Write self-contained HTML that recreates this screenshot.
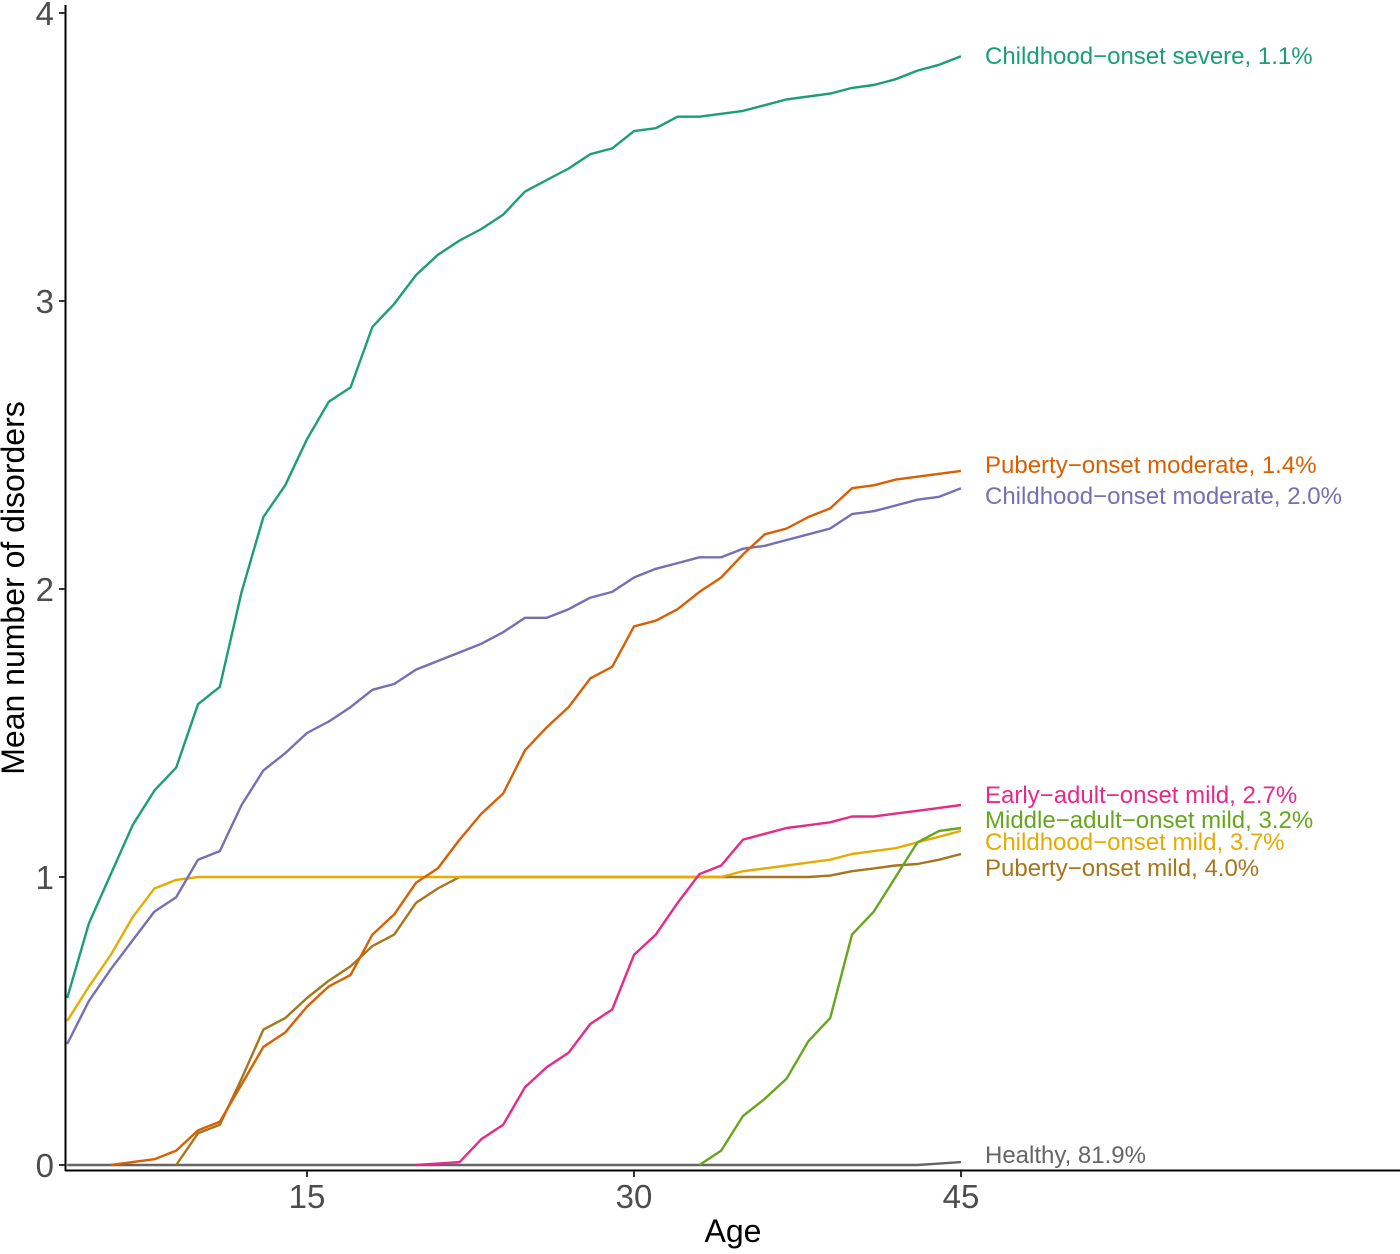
<!DOCTYPE html>
<html><head><meta charset="utf-8"><style>
body{margin:0;background:#fff;}
svg text{font-family:"Liberation Sans",sans-serif;}
</style></head><body>
<svg id="chart" width="1400" height="1249" xmlns="http://www.w3.org/2000/svg">
<g id="marks"></g>
<g id="axes"></g>
</svg>
<script>
const ages = Array.from({length:42},(_,i)=>i+4);
const severe = [0.58,0.84,1.01,1.18,1.30,1.38,1.60,1.66,1.99,2.25,2.36,2.52,2.65,2.70,2.91,2.99,3.09,3.16,3.21,3.25,3.30,3.38,3.42,3.46,3.51,3.53,3.59,3.60,3.64,3.64,3.65,3.66,3.68,3.70,3.71,3.72,3.74,3.75,3.77,3.80,3.82,3.85];
const pubModerate = [null,null,0,0.01,0.02,0.05,0.12,0.15,0.28,0.41,0.46,0.55,0.62,0.66,0.80,0.87,0.98,1.03,1.13,1.22,1.29,1.44,1.52,1.59,1.69,1.73,1.87,1.89,1.93,1.99,2.04,2.12,2.19,2.21,2.25,2.28,2.35,2.36,2.38,2.39,2.40,2.41];
const childModerate = [0.42,0.57,0.68,0.78,0.88,0.93,1.06,1.09,1.25,1.37,1.43,1.50,1.54,1.59,1.65,1.67,1.72,1.75,1.78,1.81,1.85,1.90,1.90,1.93,1.97,1.99,2.04,2.07,2.09,2.11,2.11,2.14,2.15,2.17,2.19,2.21,2.26,2.27,2.29,2.31,2.32,2.35];
const earlyMild = [null,null,null,null,null,null,null,null,null,null,null,null,null,null,null,null,0,0.005,0.01,0.09,0.14,0.27,0.34,0.39,0.49,0.54,0.73,0.80,0.91,1.01,1.04,1.13,1.15,1.17,1.18,1.19,1.21,1.21,1.22,1.23,1.24,1.25];
const middleMild = [null,null,null,null,null,null,null,null,null,null,null,null,null,null,null,null,null,null,null,null,null,null,null,null,null,null,null,null,null,0,0.05,0.17,0.23,0.30,0.43,0.51,0.80,0.88,1.00,1.12,1.16,1.17];
const childMild = [0.50,0.62,0.73,0.86,0.96,0.99,1,1,1,1,1,1,1,1,1,1,1,1,1,1,1,1,1,1,1,1,1,1,1,1,1.00,1.02,1.03,1.04,1.05,1.06,1.08,1.09,1.10,1.12,1.14,1.16];
const pubMild = [null,null,null,null,null,0,0.11,0.14,0.30,0.47,0.51,0.58,0.64,0.69,0.76,0.80,0.91,0.96,1,1,1,1,1,1,1,1,1,1,1,1,1,1,1,1,1,1.005,1.02,1.03,1.04,1.045,1.06,1.08];
const healthy = [0,0,0,0,0,0,0,0,0,0,0,0,0,0,0,0,0,0,0,0,0,0,0,0,0,0,0,0,0,0,0,0,0,0,0,0,0,0,0,0,0.005,0.01];
const xTicks = [15,30,45];
const yTicks = [0,1,2,3,4];
const seriesNames = ["Healthy, 81.9%","Puberty\u2212onset mild, 4.0%","Childhood\u2212onset mild, 3.7%","Middle\u2212adult\u2212onset mild, 3.2%","Early\u2212adult\u2212onset mild, 2.7%","Childhood\u2212onset moderate, 2.0%","Puberty\u2212onset moderate, 1.4%","Childhood\u2212onset severe, 1.1%"];
const seriesData = [healthy,pubMild,childMild,middleMild,earlyMild,childModerate,pubModerate,severe];
const colors = ["#666666","#a6761d","#e6ab02","#66a61e","#e7298a","#7570b3","#d95f02","#1b9e77"];
const labelY = [1155,868,842,820,795,496,465,56];
const keys = ["healthy","puberty-mild","childhood-mild","middle-adult-mild","early-adult-mild","childhood-moderate","puberty-moderate","childhood-severe"];

const X = a => 307 + (a-15)*21.8;
const Y = v => 1165 - v*288;
const NS="http://www.w3.org/2000/svg";
const marks=document.getElementById('marks'), axes=document.getElementById('axes');
function mk(tag,attrs,parent){const e=document.createElementNS(NS,tag);for(const k in attrs)e.setAttribute(k,attrs[k]);parent.appendChild(e);return e;}

seriesData.forEach((d,i)=>{
  let pts=[];
  d.forEach((v,j)=>{ if(v!==null) pts.push(X(ages[j]).toFixed(1)+","+Y(v).toFixed(1)); });
  const p=mk('polyline',{points:pts.join(' '),fill:'none',stroke:colors[i],'stroke-width':2.4,'stroke-linejoin':'round'},marks);
  
  
  const t=mk('text',{x:985,y:labelY[i]+8,fill:colors[i],'font-size':24},marks);
  t.textContent=seriesNames[i];
  
  
});

const ya=mk('line',{x1:65.5,y1:5,x2:65.5,y2:1171,stroke:'#000','stroke-width':2},axes);


const xa=mk('line',{x1:65,y1:1170.5,x2:1400,y2:1170.5,stroke:'#000','stroke-width':2},axes);


yTicks.forEach(v=>{
  mk('line',{x1:59,y1:Y(v),x2:65,y2:Y(v),stroke:'#333','stroke-width':2},axes);
  const t=mk('text',{x:54,y:Y(v)+12,'text-anchor':'end','font-size':33,fill:'#4d4d4d'},axes);
  t.textContent=v;
  
  
});
xTicks.forEach(v=>{
  mk('line',{x1:X(v),y1:1171,x2:X(v),y2:1177,stroke:'#333','stroke-width':2},axes);
  const t=mk('text',{x:X(v),y:1208,'text-anchor':'middle','font-size':33,fill:'#4d4d4d'},axes);
  t.textContent=v;
  
  
});
const xt=mk('text',{x:733,y:1242,'text-anchor':'middle','font-size':32,fill:'#000'},axes);
xt.textContent='Age';


const yt=mk('text',{x:0,y:0,'text-anchor':'middle','font-size':32,fill:'#000',transform:'translate(24,588) rotate(-90)'},axes);
yt.textContent='Mean number of disorders';


</script>
</body></html>
